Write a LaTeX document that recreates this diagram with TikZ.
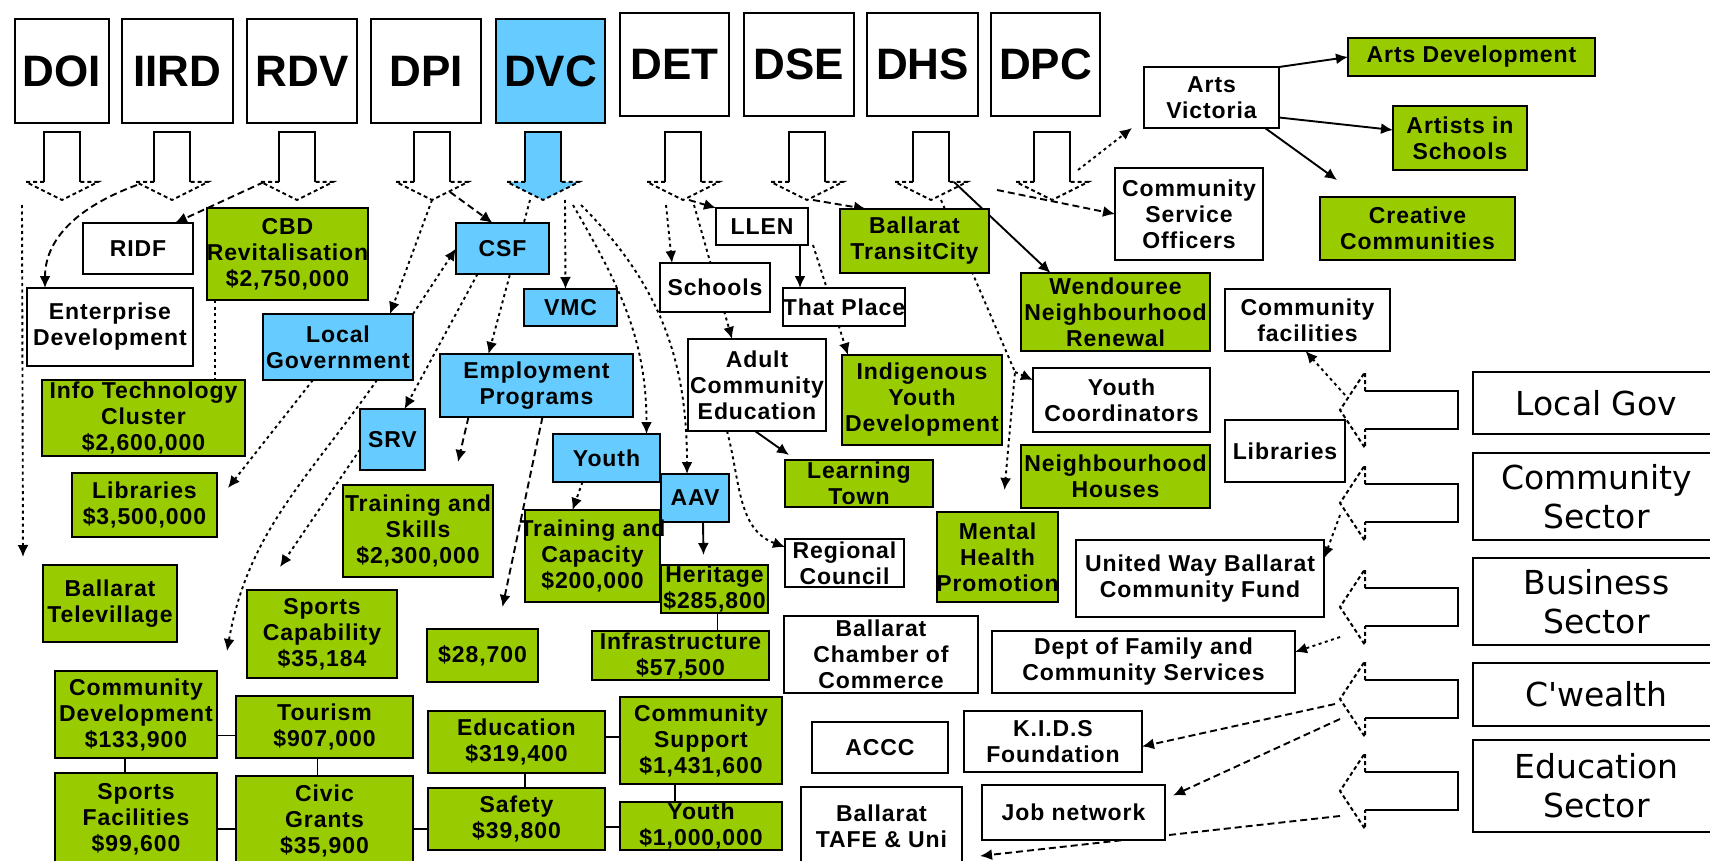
\documentclass[tikz,border=0pt]{standalone}
\usepackage{fontspec}
\setmainfont{Liberation Sans}
\newfontfamily\boxfont[LetterSpace=4]{Liberation Sans}
\newfontfamily\secfont{DejaVu Sans}
\usetikzlibrary{arrows.meta}

\definecolor{grn}{HTML}{99CC00}
\definecolor{blu}{HTML}{66CCFF}
\pgfdeclarelayer{bg}
\pgfsetlayers{bg,main}

\begin{document}
\begin{tikzpicture}[x=1pt, y=-1pt,
  box/.style={draw, line width=2pt, inner sep=0pt, outer sep=0pt},
  sz/.style 2 args={minimum width=#1pt, minimum height=#2pt},
  gbox/.style={box, fill=grn},
  bbox/.style={box, fill=blu},
  wbox/.style={box, fill=white},
  dept/.style={box, fill=white, font=\bfseries\fontsize{44}{48}\selectfont},
  sec/.style={box, fill=white, align=center, font=\secfont\fontsize{33}{39}\selectfont},
  tx/.style={inner sep=0pt, align=center, font=\boxfont\bfseries\fontsize{23}{26}\selectfont},
  ln/.style={line width=1.9pt},
  arr/.style={-{Latex[length=12pt,width=11pt]}},
  sl/.style={ln, arr},
  dl/.style={ln, arr, dash pattern=on 3pt off 3.5pt},
  dsh/.style={ln, arr, dash pattern=on 7pt off 4pt},
  harr/.style={line width=2pt},
  hd/.style={dash pattern=on 4pt off 3pt}]
\useasboundingbox (0,0) rectangle (1710,861);
\clip (0,0) rectangle (1710,861);

% departments
\node[dept, sz={94}{104}] (doi) at (62,71) {DOI};
\node[dept, sz={111}{104}] (iird) at (177.5,71) {IIRD};
\node[dept, sz={110}{104}] (rdv) at (302,71) {RDV};
\node[dept, sz={110}{104}] (dpi) at (426,71) {DPI};
\node[dept, sz={109}{104}, fill=blu] (dvc) at (550.5,71) {DVC};
\node[dept, sz={109}{103}] (det) at (674.5,64.5) {DET};
\node[dept, sz={110}{103}] (dse) at (799,64.5) {DSE};
\node[dept, sz={111}{103}] (dhs) at (922.5,64.5) {DHS};
\node[dept, sz={109}{103}] (dpc) at (1045.5,64.5) {DPC};

\fill[blu] (525,132) -- (561,132) -- (561,182) -- (579,182) -- (543,200) -- (507,182) -- (525,182) -- cycle;
\foreach \x/\n in {62/doi,172/iird,297/rdv,432/dpi,543/dvc,683/det,807/dse,931/dhs,1052/dpc} {
  \draw[harr] (\x-18,182) -- (\x-18,132) -- (\x+18,132) -- (\x+18,182);
  \draw[harr, hd] (\x-18,182) -- (\x-36,182) -- (\x,200) -- (\x+36,182) -- (\x+18,182);
  \coordinate (a\n) at (\x,200);
}

% sectors
\node[sec, sz={247}{62}] (lgov) at (1596.5,403) {Local Gov};
\node[sec, sz={247}{87}] (comm) at (1596.5,496.5) {Community\\Sector};
\node[sec, sz={247}{87}] (bus) at (1596.5,601.5) {Business\\Sector};
\node[sec, sz={247}{63}] (cwlth) at (1596.5,694.5) {C'wealth};
\node[sec, sz={247}{92}] (edsec) at (1596.5,786) {Education\\Sector};

\foreach \y/\n in {410/lg,503/cs,607/bs,699/cw,791/ed} {
  \draw[harr] (1365,\y-19) -- (1458,\y-19) -- (1458,\y+19) -- (1365,\y+19);
  \draw[harr, hd] (1365,\y-19) -- (1365,\y-38) -- (1340,\y) -- (1365,\y+38) -- (1365,\y+19);
  \coordinate (a\n) at (1340,\y);
}

% programs
\node[wbox, sz={110}{51}, label={[tx]center:RIDF}] (ridf) at (138,248.5) {};
\node[gbox, sz={161}{92}, label={[tx]center:CBD\\Revitalisation\\\$2,750,000}] (cbd) at (287.5,254) {};
\node[wbox, sz={166}{78}, label={[tx]center:Enterprise\\Development}] (ent) at (110,327) {};
\node[bbox, sz={150}{66}, label={[tx]center:Local\\Government}] (lgovt) at (338,347) {};
\node[gbox, sz={203}{76}, label={[tx]center:Info Technology\\Cluster\\\$2,600,000}] (itc) at (143.5,418) {};
\node[bbox, sz={93}{51}, label={[tx]center:CSF}] (csf) at (502.5,248.5) {};
\node[bbox, sz={93}{37}, label={[tx]center:VMC}] (vmc) at (570.5,307.5) {};
\node[bbox, sz={193}{63}, label={[tx]center:Employment\\Programs}] (emp) at (536.5,385.5) {};
\node[wbox, sz={110}{49}, label={[tx]center:Schools}] (sch) at (715,287.5) {};
\node[wbox, sz={92}{37}, label={[tx]center:LLEN}] (llen) at (762,226.5) {};
\node[wbox, sz={122}{38}, label={[tx]center:That Place}] (thp) at (844,307) {};
\node[wbox, sz={138}{92}, label={[tx]center:Adult\\Community\\Education}] (ace) at (757,385) {};
\node[gbox, sz={160}{90}, label={[tx]center:Indigenous\\Youth\\Development}] (iyd) at (922,400) {};
\node[gbox, sz={149}{64}, label={[tx]center:Ballarat\\TransitCity}] (btc) at (914.5,241) {};
\node[gbox, sz={189}{78}, label={[tx]center:Wendouree\\Neighbourhood\\Renewal}] (wnr) at (1115.5,312) {};
\node[wbox, sz={177}{64}, label={[tx]center:Youth\\Coordinators}] (ycoord) at (1121.5,400) {};
\node[wbox, sz={165}{62}, label={[tx]center:Community\\facilities}] (cfac) at (1307.5,320) {};
\node[wbox, sz={120}{62}, label={[tx]center:Libraries}] (lib) at (1285,451) {};
\node[gbox, sz={189}{63}, label={[tx]center:Neighbourhood\\Houses}] (nhh) at (1115.5,476.5) {};
\node[wbox, sz={148}{92}, label={[tx]center:Community\\Service\\Officers}] (cso) at (1189,214) {};
\node[wbox, sz={135}{61}, label={[tx]center:Arts\\Victoria}] (av) at (1211.5,97.5) {};
\node[gbox, sz={247}{38}, label={[tx]center:Arts Development}] (ad) at (1471.5,57) {};
\node[gbox, sz={134}{64}, label={[tx]center:Artists in\\Schools}] (ais) at (1460,138) {};
\node[gbox, sz={195}{63}, label={[tx]center:Creative\\Communities}] (cc) at (1417.5,228.5) {};
\node[bbox, sz={65}{61}, label={[tx]center:SRV}] (srv) at (392.5,439.5) {};
\node[gbox, sz={145}{64}, label={[tx]center:Libraries\\\$3,500,000}] (lib35) at (144.5,505) {};
\node[gbox, sz={134}{77}, label={[tx]center:Ballarat\\Televillage}] (btv) at (110,603.5) {};
\node[gbox, sz={150}{92}, label={[tx]center:Training and\\Skills\\\$2,300,000}] (tas) at (418,531) {};
\node[gbox, sz={150}{88}, label={[tx]center:Sports\\Capability\\\$35,184}] (spc) at (322,634) {};
\node[bbox, sz={107}{48}, label={[tx]center:Youth}] (yth) at (606.5,458) {};
\node[bbox, sz={68}{48}, label={[tx]center:AAV}] (aav) at (695,498) {};
\node[gbox, sz={135}{92}, label={[tx]center:Training and\\Capacity\\\$200,000}] (tac) at (592.5,556) {};
\node[gbox, sz={107}{48}, label={[tx]center:Heritage\\\$285,800}] (her) at (714.5,589) {};
\node[gbox, sz={148}{47}, label={[tx]center:Learning\\Town}] (lt) at (859,483.5) {};
\node[wbox, sz={119}{48}, label={[tx]center:Regional\\Council}] (rc) at (844.5,563) {};
\node[gbox, sz={121}{90}, label={[tx]center:Mental\\Health\\Promotion}] (mhp) at (997.5,557) {};
\node[wbox, sz={248}{77}, label={[tx]center:United Way Ballarat\\Community Fund}] (uw) at (1200,578.5) {};
\node[wbox, sz={194}{77}, label={[tx]center:Ballarat\\Chamber of\\Commerce}] (bcc) at (881,654.5) {};
\node[wbox, sz={303}{62}, label={[tx]center:Dept of Family and\\Community Services}] (dfcs) at (1143.5,662) {};
\node[gbox, sz={111}{53}, label={[tx]center:\$28,700}] (d287) at (482.5,655.5) {};
\node[gbox, sz={177}{49}, label={[tx]center:Infrastructure\\\$57,500}] (inf) at (680.5,655.5) {};
\node[gbox, sz={162}{87}, label={[tx]center:Community\\Development\\\$133,900}] (cdev) at (136,714.5) {};
\node[gbox, sz={177}{62}, label={[tx]center:Tourism\\\$907,000}] (tour) at (324.5,727) {};
\node[gbox, sz={162}{92}, label={[tx]center:Sports\\Facilities\\\$99,600}] (sfac) at (136,819) {};
\node[gbox, sz={177}{89}, label={[tx]center:Civic\\Grants\\\$35,900}] (civ) at (324.5,820.5) {};
\node[gbox, sz={177}{62}, label={[tx]center:Education\\\$319,400}] (educ) at (516.5,742) {};
\node[gbox, sz={162}{87}, label={[tx]center:Community\\Support\\\$1,431,600}] (csup) at (701,740.5) {};
\node[gbox, sz={177}{62}, label={[tx]center:Safety\\\$39,800}] (saf) at (516.5,819) {};
\node[gbox, sz={162}{48}, label={[tx]center:Youth\\\$1,000,000}] (yfund) at (701,826) {};
\node[wbox, sz={136}{51}, label={[tx]center:ACCC}] (accc) at (880,747.5) {};
\node[wbox, sz={161}{78}, label={[tx]center:Ballarat\\TAFE \& Uni}] (tafe) at (881.5,826) {};
\node[wbox, sz={178}{61}, label={[tx]center:K.I.D.S\\Foundation}] (kids) at (1053,741.5) {};
\node[wbox, sz={183}{55}, label={[tx]center:Job network}] (job) at (1073.5,812.5) {};

\begin{pgfonlayer}{bg}
\fill[white] (0,0) rectangle (1710,861);
% funding links
\draw[dl] ([xshift=-40pt,yshift=-5pt]adoi) -- ([xshift=-20pt,yshift=8pt]btv.north west);
\draw[dsh] ([xshift=-35pt,yshift=15pt]aiird) to[out=200,in=90] ([xshift=18pt]ent.north west);
\draw[dsh] ([xshift=-33pt,yshift=18pt]ardv) -- ([xshift=-18pt]ridf.north east);
\draw[ln, dash pattern=on 3pt off 3.5pt] ([xshift=8pt]cbd.south west) -- ([xshift=173pt]itc.north west);
\draw[dsh] ([xshift=18pt,yshift=8pt]adpi) -- ([xshift=-10pt]csf.north);
\draw[dl] (adpi) -- ([xshift=52pt]lgovt.north);
\draw[dl] ([xshift=22pt]advc) -- ([xshift=-5pt]vmc.north);
\draw[dl] ([xshift=-13pt]advc) -- ([xshift=-48pt]emp.north);
\draw[dl] ([xshift=30pt,yshift=-5pt]advc) to[out=-60,in=90] ([xshift=40pt]yth.north);
\draw[dl] ([xshift=38pt,yshift=-5pt]advc) to[out=-45,in=90] ([xshift=-8pt]aav.north);
\draw[dl] (lgovt.north east) -- (csf.west);
\draw[dl] ([xshift=-25pt]csf.south) -- ([xshift=12pt]srv.north);
\draw[dl] ([xshift=-25pt]lgovt.south) -- ([xshift=11pt,yshift=17pt]lib35.east);
\draw[dl] ([xshift=39pt]lgovt.south) to[out=-125,in=80] ([xshift=10pt,yshift=20pt]cdev.north east);
\draw[dl] ([yshift=-10pt]srv.west) -- ([xshift=-42pt,yshift=23pt]spc.north);
\draw[dsh] ([xshift=-68pt]emp.south) -- ([xshift=40pt,yshift=23pt]tas.north);
\draw[dsh] ([xshift=6pt]emp.south) -- ([xshift=20pt,yshift=22pt]d287.north);
\draw[dl] ([xshift=-24pt]yth.south) -- ([xshift=-20pt]tac.north);
\draw[sl] ([xshift=8pt]aav.south) -- ([xshift=-11pt,yshift=10pt]her.north);
\draw[ln] ([xshift=3pt]her.south) -- ([xshift=3pt]her.south |- inf.north);
\draw[sl] ([xshift=-2pt]ace.south) -- ([xshift=4pt,yshift=5pt]lt.north west);
\draw[dl] ([xshift=-30pt]ace.south) to[out=-75,in=160] ([yshift=-8pt]rc.north west);
\draw[dl] ([xshift=-17pt,yshift=-5pt]adet) -- ([xshift=12pt]sch.north west);
\draw[dl] ([xshift=11pt,yshift=-5pt]adet) -- ([xshift=-25pt]ace.north);
\draw[dsh] ([xshift=6pt]adet) -- (llen.north west);
\draw[dsh] ([xshift=6pt]adse) -- ([xshift=26pt]btc.north west);
\draw[sl] ([xshift=23pt,yshift=18pt]adhs) -- ([xshift=-65pt]wnr.north);
\coordinate (bend) at (1015,372);
\draw[dl] ([xshift=10pt]adhs) -- (bend) -- ([xshift=7pt,yshift=22pt]mhp.north);
\draw[dl] (bend) -- ([yshift=20pt]ycoord.west);
\draw[sl] ([xshift=38pt]llen.south) -- ([xshift=-44pt]thp.north);
\draw[dl] ([xshift=5pt]llen.south east) -- ([xshift=6pt]iyd.north west);
\draw[dl] ([xshift=26pt,yshift=30pt]adpc) -- ([xshift=-12pt]av.south west);
\draw[dsh] ([xshift=-55pt,yshift=10pt]adpc) -- (cso.west);
\draw[sl] (av.north east) -- (ad.west);
\draw[sl] ([yshift=-20pt]av.east) -- ([yshift=8pt]ais.west);
\draw[sl] ([xshift=-14pt]av.south east) -- ([xshift=17pt,yshift=17pt]cc.north west);
% sector links
\draw[dl] ([xshift=5pt,yshift=15pt]alg) -- ([xshift=-2pt]cfac.south);
\draw[dl] ([yshift=-12pt]acs) -- ([yshift=20pt]uw.east);
\draw[dl] ([yshift=-30pt]abs) -- ([yshift=10pt]dfcs.east);
\draw[dsh] ([xshift=-5pt,yshift=-5pt]acw) -- ([yshift=-5pt]kids.east);
\draw[dsh] ([yshift=-20pt]acw) -- ([xshift=8pt,yshift=17pt]job.east);
\draw[dsh] ([yshift=-25pt]aed) -- ([xshift=18pt,yshift=-30pt]tafe.east);
% grid of grants
\draw[ln] ([yshift=-21pt]cdev.east) -- ([yshift=-21pt]cdev.east -| tour.west);
\draw[ln] ([xshift=-11pt]cdev.south) -- ([xshift=-11pt]sfac.north);
\draw[ln] ([xshift=-7pt]tour.south) -- ([xshift=-7pt]civ.north);
\draw[ln] ([yshift=-10pt]sfac.east) -- ([yshift=-10pt]sfac.east -| civ.west);
\draw[ln] ([yshift=-8.5pt]civ.east) -- ([yshift=-8.5pt]civ.east -| saf.west);
\draw[ln] ([yshift=5pt]educ.east) -- ([yshift=5pt]educ.east -| csup.west);
\draw[ln] ([xshift=8.5pt]educ.south) -- ([xshift=8.5pt]saf.north);
\draw[ln] ([xshift=-26pt]csup.south) -- ([xshift=-26pt]yfund.north);
\draw[ln] ([yshift=-8pt]saf.east) -- ([yshift=-8pt]saf.east -| yfund.west);
\end{pgfonlayer}
\end{tikzpicture}
\end{document}
